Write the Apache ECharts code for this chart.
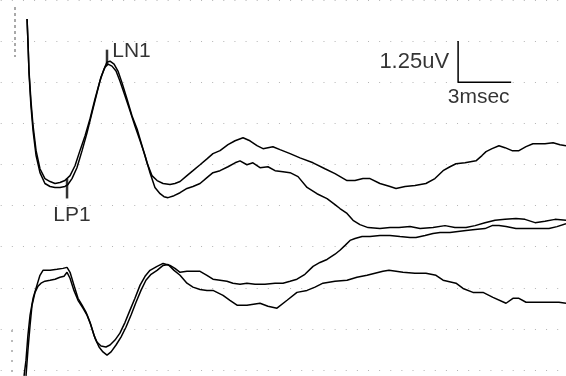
<!DOCTYPE html>
<html><head><meta charset="utf-8">
<script src="https://cdn.jsdelivr.net/npm/echarts@6/dist/echarts.min.js"></script>
<style>html,body{margin:0;padding:0;background:#fff}#c{width:566px;height:376px}</style>
</head><body><div id="c"></div>
<script>
// time in msec, amplitude in uV (display units)
const traceA = [[1.53,10.67],[1.58,10.0],[1.64,9.09],[1.75,8.18],[1.87,7.42],[2.04,6.67],[2.26,6.12],[2.54,5.82],[2.83,5.73],[3.11,5.67],[3.39,5.70],[3.67,5.76],[3.96,5.91],[4.24,6.21],[4.52,6.67],[4.81,7.12],[5.09,7.64],[5.37,8.24],[5.65,8.79],[5.88,9.15],[6.05,9.36],[6.22,9.39],[6.45,9.30],[6.67,9.09],[6.90,8.73],[7.18,8.24],[7.46,7.73],[7.75,7.33],[8.03,6.82],[8.31,6.30],[8.59,5.91],[8.88,5.76],[9.22,5.67],[9.61,5.64],[9.89,5.67],[10.18,5.73],[10.57,5.91],[10.91,6.06],[11.31,6.24],[11.70,6.42],[12.04,6.58],[12.44,6.67],[12.89,6.85],[13.29,6.97],[13.74,7.06],[14.13,6.97],[14.53,6.82],[14.87,6.73],[15.15,6.76],[15.43,6.79],[15.83,6.70],[16.40,6.58],[16.96,6.45],[17.70,6.30],[18.37,6.12],[18.94,5.97],[19.62,5.76],[20.07,5.76],[20.52,5.82],[20.92,5.82],[21.48,5.67],[22.05,5.58],[22.39,5.52],[22.90,5.58],[23.46,5.61],[24.08,5.67],[24.59,5.82],[25.05,6.06],[25.44,6.18],[25.78,6.27],[26.29,6.30],[26.91,6.36],[27.25,6.52],[27.48,6.64],[27.82,6.73],[28.21,6.82],[28.55,6.76],[28.95,6.67],[29.34,6.67],[29.74,6.79],[30.13,6.88],[30.81,6.88],[31.27,6.91],[31.66,6.85],[32.00,6.82]];
const traceB = [[1.53,10.67],[1.58,10.0],[1.64,9.03],[1.75,8.03],[1.87,7.27],[2.04,6.52],[2.26,6.00],[2.54,5.67],[2.83,5.58],[3.11,5.55],[3.39,5.55],[3.67,5.58],[3.84,5.64],[4.07,5.82],[4.35,6.15],[4.64,6.67],[4.92,7.21],[5.20,7.82],[5.48,8.42],[5.71,8.91],[5.94,9.21],[6.11,9.30],[6.33,9.24],[6.56,9.09],[6.78,8.79],[7.07,8.33],[7.35,7.88],[7.63,7.42],[7.92,6.97],[8.20,6.52],[8.48,6.00],[8.76,5.55],[9.05,5.36],[9.27,5.27],[9.50,5.24],[9.84,5.30],[10.18,5.39],[10.57,5.52],[10.91,5.58],[11.31,5.67],[11.70,5.85],[12.04,6.00],[12.44,6.06],[12.89,6.18],[13.29,6.30],[13.57,6.36],[13.96,6.24],[14.30,6.30],[14.70,6.15],[15.15,6.18],[15.55,6.06],[16.00,6.03],[16.40,6.00],[16.85,5.88],[17.36,5.55],[17.92,5.36],[18.49,5.21],[18.94,5.03],[19.22,4.91],[19.62,4.76],[19.96,4.55],[20.35,4.42],[20.81,4.33],[21.48,4.30],[22.05,4.33],[22.56,4.33],[23.18,4.36],[23.75,4.30],[24.48,4.33],[25.16,4.39],[25.72,4.33],[26.35,4.33],[26.86,4.39],[27.42,4.48],[27.99,4.55],[28.55,4.58],[29.17,4.61],[29.68,4.58],[30.25,4.48],[30.81,4.52],[31.38,4.58],[32.00,4.55]];
const traceC = [[1.36,-0.18],[1.47,0.30],[1.58,1.06],[1.70,1.67],[1.87,2.18],[2.09,2.58],[2.26,2.88],[2.43,3.03],[2.83,3.03],[3.22,3.06],[3.56,3.09],[3.79,3.12],[3.96,2.97],[4.18,2.58],[4.41,2.18],[4.64,1.97],[4.86,1.76],[5.09,1.45],[5.31,1.06],[5.48,0.85],[5.71,0.73],[5.99,0.70],[6.22,0.76],[6.50,0.91],[6.78,1.12],[7.07,1.45],[7.35,1.82],[7.63,2.18],[7.92,2.58],[8.20,2.85],[8.48,3.03],[8.88,3.15],[9.22,3.24],[9.61,3.18],[9.89,3.09],[10.18,2.97],[10.57,3.00],[10.91,3.00],[11.31,3.00],[11.70,2.88],[12.04,2.76],[12.44,2.73],[12.83,2.70],[13.17,2.64],[13.57,2.61],[13.96,2.64],[14.42,2.61],[14.98,2.61],[15.55,2.64],[16.00,2.64],[16.40,2.70],[16.79,2.76],[17.24,2.91],[17.70,3.15],[18.09,3.27],[18.49,3.36],[18.94,3.52],[19.22,3.64],[19.51,3.79],[19.79,3.94],[20.07,4.00],[20.47,4.06],[20.92,4.06],[21.48,4.09],[22.05,4.09],[22.61,4.06],[23.18,4.03],[23.52,4.03],[24.03,4.09],[24.48,4.15],[24.88,4.18],[25.44,4.18],[25.89,4.21],[26.35,4.24],[26.86,4.27],[27.42,4.30],[27.82,4.39],[28.21,4.39],[28.61,4.36],[29.17,4.30],[29.68,4.30],[30.25,4.30],[31.04,4.30],[31.49,4.36],[32.00,4.45]];
const traceD = [[1.47,-0.18],[1.58,0.61],[1.70,1.36],[1.81,1.97],[1.98,2.36],[2.15,2.55],[2.32,2.64],[2.54,2.70],[2.83,2.73],[3.11,2.76],[3.39,2.82],[3.62,2.85],[3.79,2.97],[3.96,2.79],[4.18,2.42],[4.41,2.12],[4.69,1.88],[4.92,1.67],[5.14,1.36],[5.37,0.97],[5.60,0.70],[5.82,0.55],[6.05,0.45],[6.28,0.55],[6.56,0.76],[6.84,1.00],[7.12,1.30],[7.41,1.67],[7.69,2.06],[7.97,2.42],[8.25,2.73],[8.54,2.91],[8.88,3.03],[9.22,3.18],[9.50,3.21],[9.84,3.03],[10.18,2.88],[10.57,2.64],[10.91,2.52],[11.31,2.45],[11.70,2.42],[12.04,2.42],[12.61,2.27],[13.00,2.12],[13.40,1.97],[13.96,1.97],[14.70,2.03],[15.15,1.94],[15.66,1.88],[16.23,2.12],[16.79,2.36],[17.36,2.42],[17.81,2.52],[18.26,2.64],[18.94,2.70],[19.62,2.73],[20.18,2.82],[20.75,2.88],[21.20,2.94],[21.65,3.00],[21.99,3.03],[22.39,3.00],[22.78,2.97],[23.46,2.94],[24.08,2.94],[24.65,2.88],[25.05,2.73],[25.78,2.64],[26.18,2.48],[26.74,2.36],[27.31,2.36],[27.87,2.21],[28.61,2.03],[29.00,2.18],[29.34,2.18],[29.74,2.06],[30.25,2.06],[30.70,2.06],[31.60,2.06],[32.00,2.03]];
const peakNames = ['LN1', 'LP1'];
const peakPoints = [[6.05, 9.39], [3.79, 5.55]];
const scaleBar = { t: 25.9, v: 8.75, dt: 3, dv: 1.25, tLabel: '3msec', vLabel: '1.25uV' };

const FONT = '"Liberation Sans", Arial, sans-serif';
const traceStyle = { color: '#000', width: 1.5 };
function trace(name, data) {
  return { name, type: 'line', data, showSymbol: false, symbol: 'none', clip: false,
    lineStyle: traceStyle, silent: true, animation: false, z: 3 };
}
function lbl(text, extra) {
  return Object.assign({ show: true, formatter: text, color: '#000', fontFamily: FONT, fontSize: 21, textBorderWidth: 0 }, extra);
}
const sb = scaleBar;
const chart = echarts.init(document.getElementById('c'), null, { renderer: 'canvas' });
chart.setOption({
  backgroundColor: '#fff',
  animation: false,
  grid: { left: 0, right: 0, top: -1.25, bottom: 6, containLabel: false },
  xAxis: { type: 'value', min: 0, max: 32, show: true,
    axisLine: { show: false }, axisTick: { show: false }, axisLabel: { show: false }, splitLine: { show: false } },
  yAxis: { type: 'value', min: 0, max: 11.25, interval: 1.25,
    axisLine: { show: false }, axisTick: { show: false }, axisLabel: { show: false },
    splitLine: { show: true, lineStyle: { color: '#b4b4b4', width: 1, type: [1, 10.13], dashOffset: -0.7 } } },
  series: [
    trace('A', traceA), trace('B', traceB), trace('C', traceC), trace('D', traceD),
    { name: 'scale', type: 'line', showSymbol: false, symbol: 'none', clip: false, animation: false,
      lineStyle: { color: '#000', width: 1.5 },
      data: [[sb.t, sb.v + sb.dv], [sb.t, sb.v], [sb.t + sb.dt, sb.v]] },
    { name: 'scaleLabels', type: 'scatter', symbolSize: 0, clip: false, animation: false, silent: true,
      data: [
        { value: [sb.t, sb.v + sb.dv / 2], label: lbl(sb.vLabel, { position: 'left', distance: 9, fontSize: 22 }) },
        { value: [sb.t + sb.dt / 2, sb.v], label: lbl(sb.tLabel, { position: 'bottom', distance: 4, offset: [-6, 0] }) }
      ] },
    { name: 'peaks', type: 'scatter', symbol: 'rect', clip: false, animation: false, silent: true,
      itemStyle: { color: '#000' },
      data: [
        { value: peakPoints[0], symbolSize: [2.5, 15], symbolOffset: [0, -4],
          label: lbl(peakNames[0], { position: 'right', distance: 4, offset: [0, -6] }) },
        { value: peakPoints[1], symbolSize: [2.5, 20], symbolOffset: [0, 1],
          label: lbl(peakNames[1], { position: 'bottom', distance: 6, offset: [5, 0] }) }
      ] }
  ],
  graphic: [
    { type: 'line', shape: { x1: 15, y1: 7, x2: 15, y2: 57 }, style: { stroke: '#555', lineWidth: 1, lineDash: [3, 3] } },
    { type: 'line', shape: { x1: 12, y1: 330, x2: 12, y2: 372 }, style: { stroke: '#777', lineWidth: 1, lineDash: [2, 8] } }
  ]
});
</script>
</body></html>
